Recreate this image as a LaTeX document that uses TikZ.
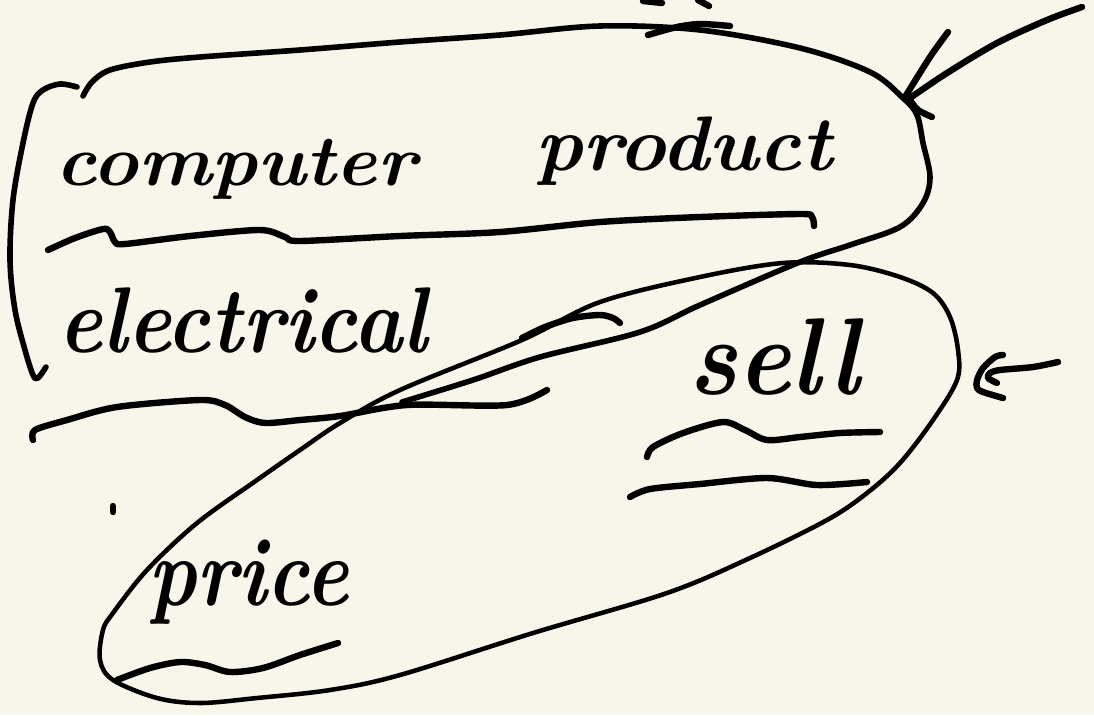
\documentclass[tikz,border=0pt]{standalone}
\usepackage{fontspec}
\usepackage{graphicx}
\definecolor{paper}{RGB}{248,246,234}
\begin{document}
\begin{tikzpicture}[x=0.75pt,y=-0.75pt,
  ink/.style={line width=4.8pt, line cap=round, line join=round},
  midink/.style={line width=4.2pt, line cap=round, line join=round},
  fineink/.style={line width=3.4pt, line cap=round, line join=round},
  word/.style={anchor=base west, inner sep=0pt, text=black}]
\fill[paper] (0,0) rectangle (1094,715);
\useasboundingbox (0,0) rectangle (1094,715);

% handwritten words
\node[word] (computer) at (55,185)
  {\fontsize{54}{54}\selectfont\bfseries\itshape\scalebox{1.08}[1]{computer}};
\node[word] (product) at (535,170)
  {\fontsize{58}{58}\selectfont\bfseries\itshape\scalebox{1.04}[1]{product}};
\node[word] (electrical) at (58,352)
  {\fontsize{70}{70}\selectfont\bfseries\itshape\scalebox{0.89}[1]{electrical}};
\node[word] (sell) at (688,394)
  {\fontsize{82}{82}\selectfont\bfseries\itshape\scalebox{0.92}[1]{sell}};
\node[word] (price) at (148,605)
  {\fontsize{73}{73}\selectfont\bfseries\itshape\scalebox{0.84}[1]{price}};

% loop round "computer product": top, right side and lower return
\draw[midink] plot[smooth, tension=0.55] coordinates {
  (83,96) (92,82) (110,70) (150,62) (200,57) (300,50) (400,42) (500,35)
  (600,26) (700,30) (800,48) (870,72) (903,98) (917,115) (923,143)
  (930,177) (923,203) (900,227) (850,245) (800,262) (700,305) (640,332)
  (540,357) (473,380) (402,402)};
% left bracket of the loop
\draw[midink] plot[smooth, tension=0.55] coordinates {
  (77,87) (60,84) (43,90) (33,103) (23,143) (13,200) (10,260) (15,310)
  (25,350) (33,375) (38,378) (46,367)};
% retraced bit on top of the loop
\draw[ink] plot[smooth] coordinates {(648,35) (677,27) (700,24) (730,26)};
% cut-off marks at the top edge
\draw[ink] (643,1) -- (662,3);
\draw[ink] (698,0) -- (709,6);

% underline of "computer product"
\draw[ink] plot[smooth, tension=0.5] coordinates {
  (48,250) (75,238) (103,229) (110,232) (115,242) (125,244) (190,236)
  (260,230) (285,237) (300,241) (400,236) (500,232) (600,222) (700,217)
  (800,214) (812,217) (814,226)};

% underline of "electrical"
\draw[ink] plot[smooth, tension=0.5] coordinates {
  (33,440) (35,430) (67,420) (117,407) (200,400) (225,405) (245,417)
  (265,423) (300,420) (340,416) (407,405) (507,405) (547,390)};

% loop round "sell" and "price"
\draw[fineink] plot[smooth cycle, tension=0.55] coordinates {
  (600,302) (700,277) (783,263) (850,265) (900,277) (933,293) (950,317)
  (958,350) (957,380) (933,420) (900,463) (867,493) (827,520) (750,558)
  (667,593) (533,633) (400,675) (330,690) (257,698) (200,703) (157,698)
  (113,680) (100,660) (103,630) (113,613) (147,570) (197,523) (257,480)
  (300,450) (340,423) (400,390) (522,340)};
% short arc near the crossing
\draw[ink] plot[smooth] coordinates {
  (522,338) (545,327) (573,318) (600,315) (613,318) (620,323)};

% underlines below "sell"
\draw[ink] plot[smooth, tension=0.5] coordinates {
  (647,457) (653,447) (683,433) (723,422) (745,430) (767,440) (800,437)
  (840,433) (880,432)};
\draw[ink] plot[smooth, tension=0.5] coordinates {
  (630,497) (650,489) (700,484) (767,478) (817,485) (867,482)};

% underline of "price" and a stray dot
\draw[ink] plot[smooth, tension=0.5] coordinates {
  (117,680) (150,668) (180,662) (205,665) (230,672) (263,668) (300,655)
  (338,643)};
\draw[ink] (113,506) -- (113,512);

% arrow pointing at the upper loop
\coordinate (a1tail) at (1082,7);
\coordinate (a1tip) at (910,98);
\draw[ink] plot[smooth] coordinates {
  (a1tail) (1047,20) (997,43) (947,73) (a1tip)};
\draw[ink] plot[smooth] coordinates {(948,32) (930,57) (905,97)};
\draw[ink] plot[smooth] coordinates {(910,100) (918,110) (932,117)};

% arrow pointing at the lower loop
\coordinate (a2tail) at (1058,362);
\draw[ink] plot[smooth] coordinates {
  (a2tail) (1033,367) (1000,370) (990,373) (988,378) (997,383)};
\draw[ink] plot[smooth] coordinates {
  (1003,355) (995,357) (983,368) (977,380) (977,388) (983,392) (1003,398)};
\end{tikzpicture}
\end{document}
